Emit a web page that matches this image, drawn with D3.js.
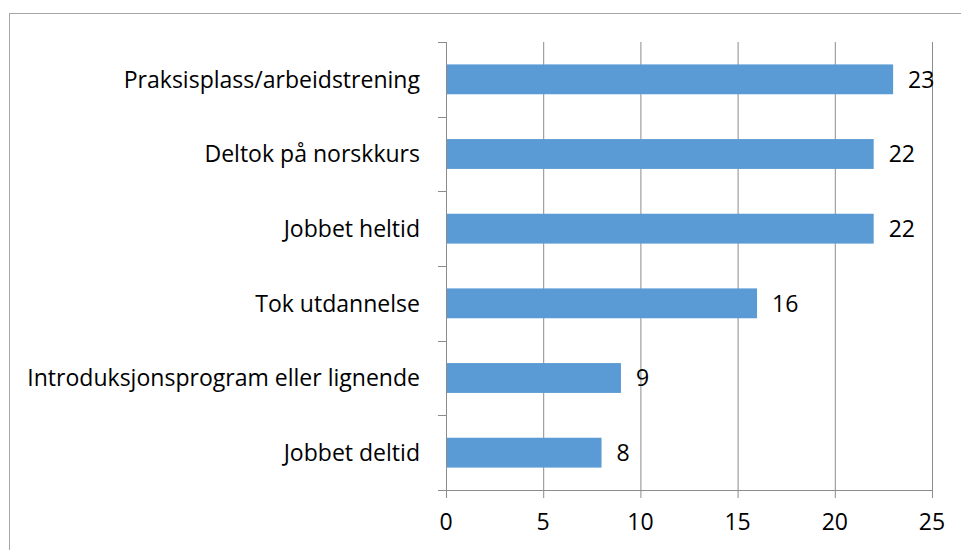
<!DOCTYPE html>
<html><head><meta charset="utf-8">
<script src="https://cdn.jsdelivr.net/npm/d3@7"></script>
<style>body{margin:0;background:#fff}svg{display:block}text{font-family:"Open Sans",sans-serif;fill:#000}</style>
</head><body>
<script>
const categories = ["Praksisplass/arbeidstrening","Deltok på norskkurs","Jobbet heltid","Tok utdannelse","Introduksjonsprogram eller lignende","Jobbet deltid"];
const values = [23,22,22,16,9,8];
const xTicks = [0,5,10,15,20,25];

const W=961,H=550;
const svg=d3.select("body").append("svg").attr("width",W).attr("height",H);
svg.append("rect").attr("x",9.5).attr("y",13.5).attr("width",W).attr("height",H).attr("fill","#fff").attr("stroke","#a6a6a6");

const x=d3.scaleLinear().domain([0,25]).range([446,932]);
const y=d3.scaleBand().domain(categories).range([42,490]).paddingInner(0.6).paddingOuter(0.3);
const grid="#8c8c8c";

svg.append("g").selectAll("line").data(xTicks).join("line")
 .attr("x1",d=>x(d)+0.5).attr("x2",d=>x(d)+0.5).attr("y1",42).attr("y2",498)
 .attr("stroke",grid).attr("stroke-width",1);
svg.append("line").attr("x1",438).attr("x2",x(25)+0.5).attr("y1",490.5).attr("y2",490.5).attr("stroke",grid);
const bounds=d3.range(categories.length+1).map(i=>42+i*(448/categories.length));
svg.append("g").selectAll("line").data(bounds).join("line")
 .attr("x1",438).attr("x2",446).attr("y1",d=>Math.round(d)+0.5).attr("y2",d=>Math.round(d)+0.5).attr("stroke",grid);

svg.append("g").selectAll("rect").data(values).join("rect")
 .attr("x",x(0)+1).attr("y",(d,i)=>y(categories[i])).attr("width",d=>x(d)-x(0)-1).attr("height",y.bandwidth())
 .attr("fill","#5b9bd5");

const cl=svg.append("g").selectAll("text").data(categories).join("text")
 .attr("x",420).attr("y",d=>y(d)+y.bandwidth()/2).attr("dy","0.36em").attr("text-anchor","end")
 .attr("font-size",20).text(d=>d);
const longest=d3.max(cl.nodes(),n=>n.getComputedTextLength());
const fs=20*393/longest;
cl.attr("font-size",fs);

svg.append("g").selectAll("text").data(values).join("text")
 .attr("x",d=>x(d)+15).attr("y",(d,i)=>y(categories[i])+y.bandwidth()/2).attr("dy","0.36em")
 .attr("font-size",fs).text(d=>d);

svg.append("g").selectAll("text").data(xTicks).join("text")
 .attr("x",d=>x(d)).attr("y",522).attr("dy","0.36em").attr("text-anchor","middle")
 .attr("font-size",fs).text(d=>d);
</script>
</body></html>
